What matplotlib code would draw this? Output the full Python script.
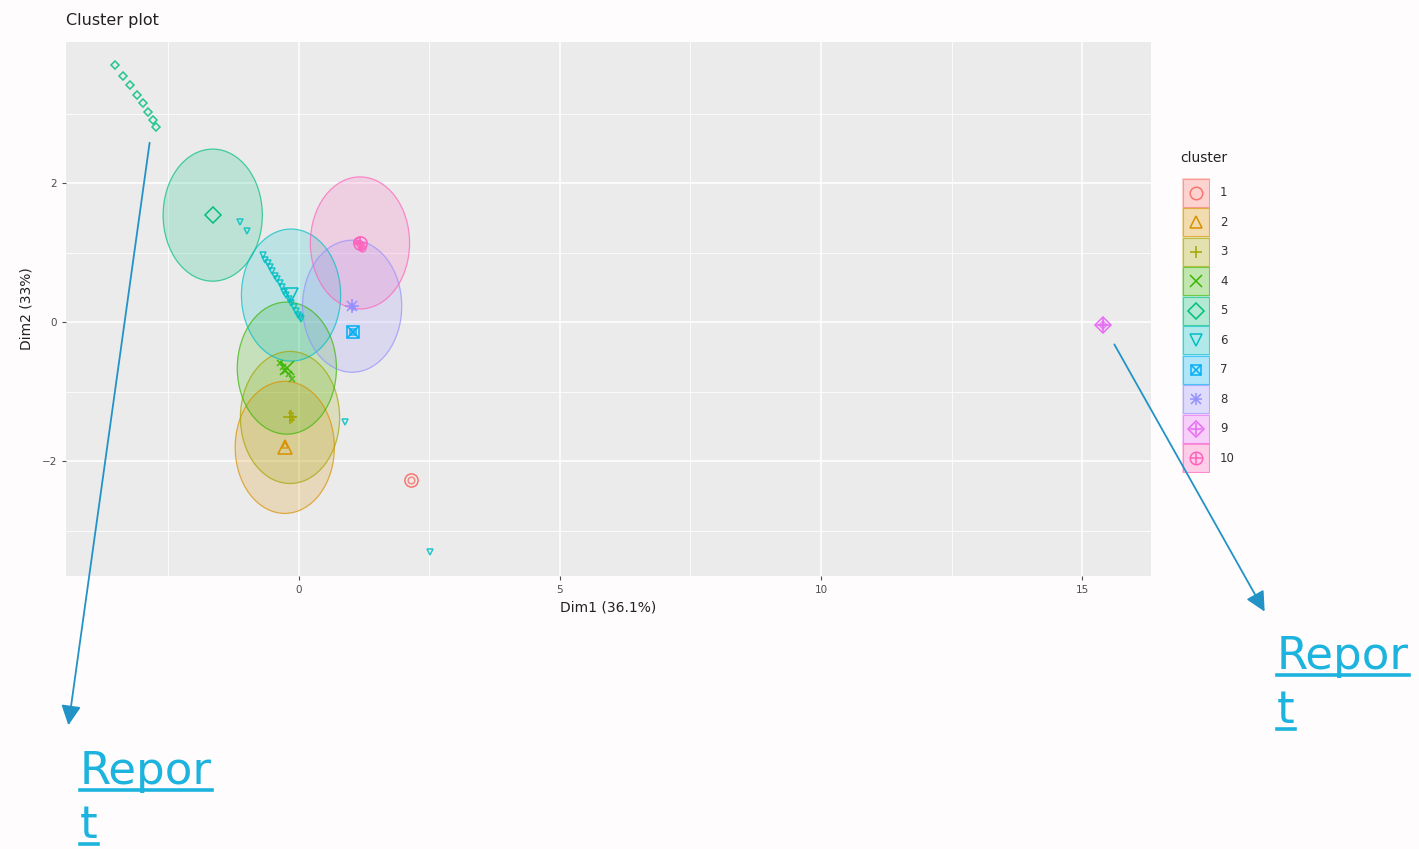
import matplotlib
matplotlib.use("Agg")
import matplotlib.pyplot as plt
from matplotlib.patches import Ellipse, Rectangle, FancyArrowPatch
from matplotlib.lines import Line2D

# ---------------- data ----------------
clusters = ["1", "2", "3", "4", "5", "6", "7", "8", "9", "10"]
colors = ["#F8766D", "#D89000", "#A3A500", "#39B600", "#00BF7D",
          "#00BFC4", "#00B0F6", "#9590FF", "#E76BF3", "#FF62BC"]

pts_x = {
    "1": [2.15],
    "2": [-0.27],
    "3": [-0.15, -0.12, -0.13],
    "4": [-0.36, -0.31, -0.26, -0.19, -0.13],
    "5": [-3.52, -3.36, -3.24, -3.10, -2.99, -2.89, -2.80, -2.74],
    "6": [-1.13, -0.99, -0.69, -0.64, -0.60, -0.55, -0.51, -0.46, -0.42,
          -0.37, -0.33, -0.28, -0.24, -0.19, -0.15, -0.10, -0.06, -0.02,
          0.02, 0.05, 0.88, 2.51],
    "7": [1.03],
    "8": [1.01, 1.04],
    "9": [15.40],
    "10": [1.12, 1.17, 1.21],
}
pts_y = {
    "1": [-2.27],
    "2": [-1.77],
    "3": [-1.30, -1.36, -1.40],
    "4": [-0.58, -0.64, -0.70, -0.75, -0.81],
    "5": [3.70, 3.54, 3.41, 3.27, 3.15, 3.02, 2.91, 2.81],
    "6": [1.44, 1.31, 0.96, 0.90, 0.85, 0.79, 0.73, 0.67, 0.62,
          0.56, 0.50, 0.44, 0.39, 0.33, 0.27, 0.22, 0.16, 0.11,
          0.08, 0.05, -1.44, -3.31],
    "7": [-0.14],
    "8": [0.23, 0.21],
    "9": [-0.04],
    "10": [1.17, 1.12, 1.07],
}
center_x = [2.15, -0.27, -0.17, -0.23, -1.65, -0.15, 1.03, 1.02, 15.40, 1.17]
center_y = [-2.27, -1.80, -1.37, -0.66, 1.54, 0.39, -0.14, 0.23, -0.04, 1.14]
has_circle = [False, True, True, True, True, True, False, True, False, True]
circle_radius = 0.95

x_ticks = [0, 5, 10, 15]
y_ticks = [-2, 0, 2]
x_label = "Dim1 (36.1%)"
y_label = "Dim2 (33%)"
title = "Cluster plot"
link_text = ["Repor", "t"]

# ---------------- figure ----------------
W, H = 1419, 849
fig = plt.figure(figsize=(W / 100, H / 100), dpi=100)
fig.patch.set_facecolor("#FEFCFC")

def fx(px):
    return px / W

def fy(py):
    return 1 - py / H

ax = fig.add_axes([fx(66), fy(576), fx(1151) - fx(66), fy(42) - fy(576)])
ax.set_facecolor("#EBEBEB")
ax.set_xlim(-4.46, 16.32)
ax.set_ylim(-3.65, 4.03)
ax.set_xticks(x_ticks)
ax.set_yticks(y_ticks)
ax.set_xticks([-2.5, 2.5, 7.5, 12.5], minor=True)
ax.set_yticks([-3, -1, 1, 3], minor=True)
ax.grid(which="major", color="white", linewidth=1.1)
ax.grid(which="minor", color="white", linewidth=0.55)
ax.set_axisbelow(True)
for s in ax.spines.values():
    s.set_visible(False)
ax.tick_params(which="major", colors="#4D4D4D", labelsize=7.5, length=3,
               width=0.8, labelcolor="#4D4D4D")
ax.tick_params(which="minor", length=0)
ax.set_xlabel(x_label, fontsize=10, color="#222222", labelpad=4)
ax.set_ylabel(y_label, fontsize=10, color="#222222", labelpad=6)
fig.text(fx(66), fy(21), title, fontsize=11.5, color="#222222",
         ha="left", va="center")

# marker drawing helper (R pch 1..10)
def draw_marker(axis, x, y, idx, col, size, zorder=4, alpha=1.0):
    kw = dict(linestyle="none", markerfacecolor="none", markeredgecolor=col,
              color=col, markersize=size, markeredgewidth=1.1, zorder=zorder,
              alpha=alpha)
    if idx == 0:
        axis.plot(x, y, marker="o", **kw)
    elif idx == 1:
        axis.plot(x, y, marker="^", **kw)
    elif idx == 2:
        axis.plot(x, y, marker="+", **kw)
    elif idx == 3:
        axis.plot(x, y, marker="x", **kw)
    elif idx == 4:
        axis.plot(x, y, marker="D", **{**kw, "markersize": size * 0.85})
    elif idx == 5:
        axis.plot(x, y, marker="v", **kw)
    elif idx == 6:
        axis.plot(x, y, marker="s", **{**kw, "markersize": size * 0.85})
        axis.plot(x, y, marker="x", **{**kw, "markersize": size * 0.85})
    elif idx == 7:
        axis.plot(x, y, marker="+", **kw)
        axis.plot(x, y, marker="x", **{**kw, "markersize": size * 0.75})
    elif idx == 8:
        axis.plot(x, y, marker="D", **{**kw, "markersize": size * 0.85})
        axis.plot(x, y, marker="+", **kw)
    elif idx == 9:
        axis.plot(x, y, marker="o", **kw)
        axis.plot(x, y, marker="+", **kw)

# circles
for i, c in enumerate(clusters):
    if has_circle[i]:
        e = Ellipse((center_x[i], center_y[i]), 2 * circle_radius,
                    2 * circle_radius, facecolor=colors[i], alpha=0.2,
                    edgecolor="none", zorder=2)
        ax.add_patch(e)
        e2 = Ellipse((center_x[i], center_y[i]), 2 * circle_radius,
                     2 * circle_radius, facecolor="none",
                     edgecolor=colors[i], alpha=0.7, linewidth=0.9,
                     zorder=2.5)
        ax.add_patch(e2)

# points
for i, c in enumerate(clusters):
    draw_marker(ax, pts_x[c], pts_y[c], i, colors[i], 4.8, alpha=0.85)
    draw_marker(ax, [center_x[i]], [center_y[i]], i, colors[i], 9.5, zorder=5)

# ---------------- legend (manual) ----------------
fig.text(fx(1180), fy(158), "cluster", fontsize=10, color="#222222",
         ha="left", va="center")
lax = fig.add_axes([fx(1182), fy(473), fx(1210) - fx(1182), fy(178) - fy(473)])
lax.set_xlim(0, 1)
lax.set_ylim(len(clusters), 0)
lax.axis("off")
for i, c in enumerate(clusters):
    lax.add_patch(Rectangle((0, i), 1, 1, facecolor=colors[i], alpha=0.3,
                            edgecolor="none"))
    lax.add_patch(Rectangle((0.02, i + 0.02), 0.96, 0.96, facecolor="none",
                            edgecolor=colors[i], alpha=0.6, linewidth=0.8))
    draw_marker(lax, [0.5], [i + 0.5], i, colors[i], 9)
    fig.text(fx(1220), fy(178 + (i + 0.5) * 29.5), c, fontsize=8.5,
             color="#333333", ha="left", va="center")

# ---------------- arrows ----------------
arrow_col = "#2293C6"
arrows = [((150, 140), (68, 728)), ((1113, 342), (1266, 614))]
for (sx, sy), (ex, ey) in arrows:
    fig.patches.append(FancyArrowPatch(
        (fx(sx), fy(sy)), (fx(ex), fy(ey)), transform=fig.transFigure,
        arrowstyle="-|>,head_length=8,head_width=4", color=arrow_col,
        linewidth=1.3, mutation_scale=1.5))

# ---------------- hyperlink texts ----------------
link_col = "#1CB3DE"
link_pos = [(80, 784, 838), (1277, 669, 723)]
fig.canvas.draw()
renderer = fig.canvas.get_renderer()
for (lx, b1, b2) in link_pos:
    for txt, base in zip(link_text, (b1, b2)):
        t = fig.text(fx(lx), fy(base), txt, fontsize=32.5, color=link_col,
                     ha="left", va="baseline", family="DejaVu Sans")
        bb = t.get_window_extent(renderer=renderer)
        uy = fy(base + 6)
        fig.add_artist(Line2D([bb.x0 / W, bb.x1 / W], [uy, uy],
                              color=link_col, linewidth=2.6))

fig.savefig("out.png", dpi=100, facecolor=fig.get_facecolor())
